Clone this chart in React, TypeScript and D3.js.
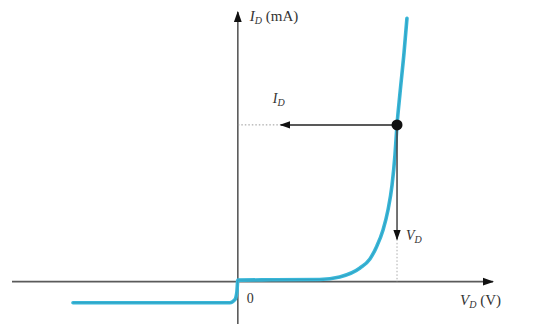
import React from 'react';
import * as d3 from 'd3';

// diode characteristic: V in volts, I in mA
const curveV = [-0.73, -0.2, -0.035, -0.013, -0.004, 0, 0.15, 0.363, 0.451, 0.541, 0.585, 0.616, 0.643, 0.665, 0.683, 0.696, 0.705, 0.718, 0.736, 0.749];
const curveI = [-1.34, -1.34, -1.34, -1.15, -0.64, 0.1, 0.12, 0.14, 0.30, 0.87, 1.45, 2.28, 3.30, 4.57, 6.17, 8.08, 10, 12.0, 14.6, 16.8];

// operating point
const opV = [0.705];
const opI = [10];
const vdArrowEnd = [2.7]; // mA, where the V_D arrowhead sits
const idArrowEnd = [0.19]; // V, where the I_D arrowhead sits

const xDomain = [-1.0, 1.13];
const yDomain = [-2.7, 17.2];

export default function App() {
  const width = 558, height = 328;
  const x = d3.scaleLinear().domain(xDomain).range([12, 493]);
  const y = d3.scaleLinear().domain(yDomain).range([324, 12]);

  let pts = curveV.map((v, i) => [v, curveI[i]] as [number, number]);
  let line = d3.line<[number, number]>()
    .x(d => x(d[0]))
    .y(d => y(d[1]))
    .curve(d3.curveMonotoneX);

  const x0 = x(0), y0 = y(0);
  const px = x(opV[0]), py = y(opI[0]);
  const axis = '#5a5a5a';
  const font = '"Liberation Serif", "DejaVu Serif", serif';

  return (
    <svg width={width} height={height} style={{ position: 'absolute', left: 0, top: 0, background: '#fff' }}>
      <defs>
        <marker id="arr" viewBox="0 0 10 10" refX="9" refY="5" markerWidth="7" markerHeight="7" orient="auto-start-reverse">
          <path d="M0,1.5 L10,5 L0,8.5 Z" fill="#111" />
        </marker>
      </defs>

      {/* axes */}
      <line x1={x(xDomain[0])} y1={y0} x2={x(xDomain[1])} y2={y0} stroke={axis} strokeWidth={1.6} markerEnd="url(#arr)" />
      <line x1={x0} y1={y(yDomain[0])} x2={x0} y2={y(yDomain[1])} stroke={axis} strokeWidth={1.6} markerEnd="url(#arr)" />

      {/* dotted guides */}
      <line x1={x0} y1={py} x2={x(idArrowEnd[0])} y2={py} stroke="#999" strokeWidth={1} strokeDasharray="1.5,2" />
      <line x1={px} y1={y(vdArrowEnd[0])} x2={px} y2={y0} stroke="#aaa" strokeWidth={1} strokeDasharray="1.5,2" />

      {/* curve */}
      <path d={line(pts) || ''} fill="none" stroke="#38b6d8" strokeWidth={3.6} strokeLinecap="round" />
      <path d={line(pts) || ''} fill="none" stroke="#2a8fae" strokeWidth={1} opacity={0.5} />

      {/* I_D and V_D arrows */}
      <line x1={px} y1={py} x2={x(idArrowEnd[0])} y2={py} stroke="#222" strokeWidth={1.5} markerEnd="url(#arr)" />
      <line x1={px} y1={py} x2={px} y2={y(vdArrowEnd[0])} stroke="#444" strokeWidth={1.5} markerEnd="url(#arr)" />
      <circle cx={px} cy={py} r={5.5} fill="#111" />

      {/* labels */}
      <text x={x0 + 12} y={21} fontFamily={font} fontSize={15} fill="#333">
        <tspan fontStyle="italic">I</tspan>
        <tspan fontStyle="italic" fontSize={10} dy={3}>D</tspan>
        <tspan dy={-3}> (mA)</tspan>
      </text>
      <text x={x(idArrowEnd[0]) - 8} y={py - 22} fontFamily={font} fontSize={14} fill="#333">
        <tspan fontStyle="italic">I</tspan>
        <tspan fontStyle="italic" fontSize={10} dy={3}>D</tspan>
      </text>
      <text x={px + 9} y={y(vdArrowEnd[0]) + 1} fontFamily={font} fontSize={14} fill="#333">
        <tspan fontStyle="italic">V</tspan>
        <tspan fontStyle="italic" fontSize={10} dy={3}>D</tspan>
      </text>
      <text x={x0 + 9} y={y0 + 21} fontFamily={font} fontSize={14} fill="#333">0</text>
      <text x={x(xDomain[1]) - 33} y={y0 + 23} fontFamily={font} fontSize={15} fill="#333">
        <tspan fontStyle="italic">V</tspan>
        <tspan fontStyle="italic" fontSize={10} dy={3}>D</tspan>
        <tspan dy={-3}> (V)</tspan>
      </text>
    </svg>
  );
}
